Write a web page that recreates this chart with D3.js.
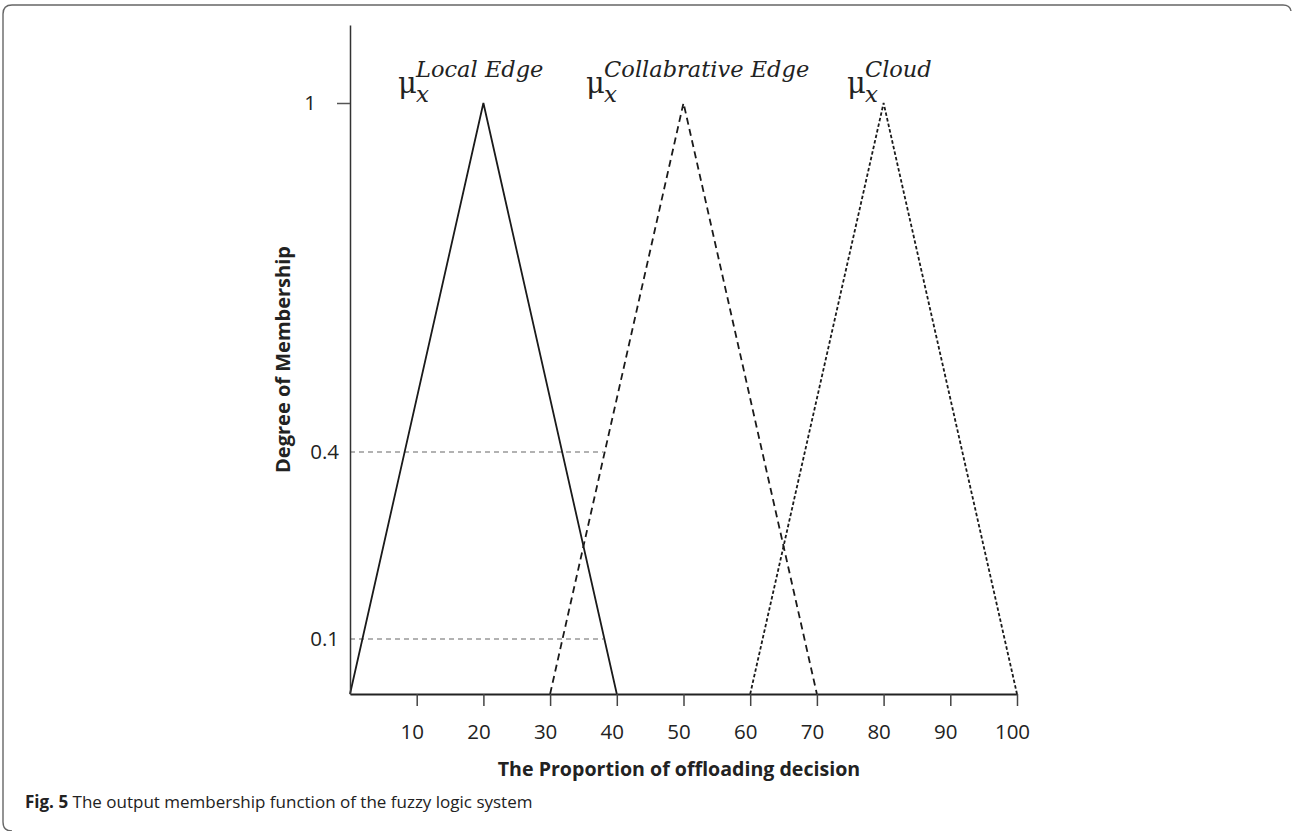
<!DOCTYPE html>
<html>
<head>
<meta charset="utf-8">
<script src="https://cdn.jsdelivr.net/npm/d3@7"></script>
<style>
  body { margin: 0; background: #fff; }
  svg { display: block; }
  .tick text { font-family: "Open Sans", sans-serif; fill: #222; }
</style>
</head>
<body>
<div id="chart-area"></div>
<script>
// membership functions of the output (proportion of offloading decision)
var sets = ["Local Edge", "Collabrative Edge", "Cloud"];
var setStart = [0, 30, 60];
var setPeak = [20, 50, 80];
var setEnd = [40, 70, 100];
var xTicks = [10, 20, 30, 40, 50, 60, 70, 80, 90, 100];
var yTicks = [0.1, 0.4, 1];
var guideLevels = [0.4, 0.1];
var guideEnd = 38;
// where the mu labels sit (in x units)
var labelX = [7.2, 35.4, 74.5];

var width = 1292, height = 831;

var svg = d3.select("#chart-area").append("svg")
    .attr("width", width)
    .attr("height", height);

// frame (only top and left edges are visible in the figure)
svg.append("path")
    .attr("d", "M12,831 Q3,831 3,822 L3,14 Q3,5 12,5 L1283,5 Q1290,5 1291,11")
    .attr("fill", "none")
    .attr("stroke", "#666")
    .attr("stroke-width", 1.4);

var x = d3.scaleLinear()
    .domain([0, 100])
    .range([350, 1017]);

// the printed y axis is not evenly spaced
var y = d3.scaleLinear()
    .domain([0, 0.1, 0.4, 1, 1.22])
    .range([694, 639, 452, 103, 25]);

// guide lines at 0.4 and 0.1
svg.selectAll(".guide")
    .data(guideLevels)
    .enter().append("line")
    .attr("class", "guide")
    .attr("x1", x(0))
    .attr("x2", x(guideEnd))
    .attr("y1", d => y(d))
    .attr("y2", d => y(d))
    .attr("stroke", "#666")
    .attr("stroke-width", 1.1)
    .attr("stroke-dasharray", "5,4");

var dashes = [null, "7,4.5", "3.5,2.2"];

var line = d3.line()
    .x(d => x(d[0]))
    .y(d => y(d[1]));

sets.forEach(function(s, i) {
    svg.append("path")
        .datum([[setStart[i], 0], [setPeak[i], 1], [setEnd[i], 0]])
        .attr("fill", "none")
        .attr("stroke", "#1a1a1a")
        .attr("stroke-width", 1.8)
        .attr("stroke-dasharray", dashes[i])
        .attr("d", line);
});

// x axis
var xAxis = svg.append("g")
    .attr("transform", "translate(0," + y(0) + ")")
    .call(d3.axisBottom(x).tickValues(xTicks).tickSize(12).tickSizeOuter(0).tickPadding(18));
xAxis.select(".domain").attr("stroke", "#222").attr("stroke-width", 2);
xAxis.selectAll(".tick line").attr("stroke", "#444").attr("stroke-width", 1.5);
xAxis.selectAll(".tick text")
    .attr("dx", -5)
    .style("font-size", "20.5px");

// y axis
var yAxis = svg.append("g")
    .attr("transform", "translate(" + x(0) + ",0)")
    .call(d3.axisLeft(y).tickValues(yTicks).tickSize(13).tickSizeOuter(0).tickFormat(d3.format("")));
yAxis.select(".domain").attr("stroke", "#333").attr("stroke-width", 1.5);
yAxis.selectAll(".tick line")
    .attr("stroke", "#555")
    .attr("stroke-width", 1.5)
    .attr("x2", d => d === 1 ? -13 : 0);
yAxis.selectAll(".tick text")
    .attr("x", d => d === 1 ? -34 : -11)
    .style("font-size", "20.5px");

// axis titles
svg.append("text")
    .attr("x", 679)
    .attr("y", 776)
    .attr("text-anchor", "middle")
    .attr("font-family", "Open Sans")
    .attr("font-weight", "bold")
    .attr("font-size", "19.6px")
    .attr("fill", "#222")
    .text("The Proportion of offloading decision");

svg.append("text")
    .attr("transform", "translate(290," + ((y(0) + y(1.22)) / 2) + ") rotate(-90)")
    .attr("text-anchor", "middle")
    .attr("font-family", "Open Sans")
    .attr("font-weight", "bold")
    .attr("font-size", "20px")
    .attr("fill", "#222")
    .text("Degree of Membership");

// mu labels
sets.forEach(function(s, i) {
    var g = svg.append("g")
        .attr("transform", "translate(" + x(labelX[i]) + ",0)");
    g.append("text")
        .attr("x", 0)
        .attr("y", 93)
        .attr("font-family", "DejaVu Serif")
        .attr("font-size", "29px")
        .attr("fill", "#222")
        .text("\u03bc");
    g.append("text")
        .attr("x", 18)
        .attr("y", 102)
        .attr("font-family", "DejaVu Serif")
        .attr("font-style", "italic")
        .attr("font-size", "23px")
        .attr("fill", "#222")
        .text("x");
    g.append("text")
        .attr("x", 18)
        .attr("y", 77)
        .attr("font-family", "DejaVu Serif")
        .attr("font-style", "italic")
        .attr("font-size", "22.5px")
        .attr("fill", "#222")
        .text(s);
});

// caption
var cap = svg.append("text")
    .attr("x", 25)
    .attr("y", 808)
    .attr("font-family", "Open Sans")
    .attr("font-size", "17px")
    .attr("fill", "#222");
cap.append("tspan").attr("font-weight", "bold").text("Fig. 5");
cap.append("tspan").text(" The output membership function of the fuzzy logic system");
</script>
</body>
</html>
